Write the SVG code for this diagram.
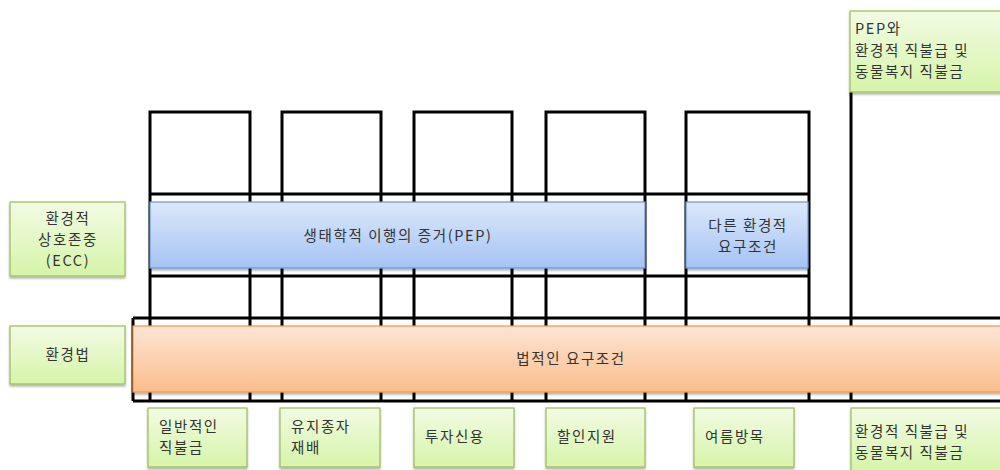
<svg xmlns="http://www.w3.org/2000/svg" width="1000" height="470" viewBox="0 0 1000 470">
<style>
text{font-family:"Noto Sans CJK KR","Noto Sans",sans-serif;font-size:14.5px;fill:#333;letter-spacing:1.6px}
.c{text-anchor:middle}
.ln{stroke:#000;stroke-width:3;fill:none}
.g{fill:url(#gg);stroke:#9bbb59;stroke-width:1.2;filter:url(#sh)}
.b{fill:url(#bg);stroke:#6d94cf;stroke-width:1.2;filter:url(#sh)}
.o{fill:url(#og);stroke:#f79646;stroke-width:1.2;filter:url(#sh)}
</style>
<defs>
<linearGradient id="gg" x1="0" y1="0" x2="0" y2="1"><stop offset="0" stop-color="#f2fbe4"/><stop offset="1" stop-color="#d6f4a9"/></linearGradient>
<linearGradient id="bg" x1="0" y1="0" x2="0" y2="1"><stop offset="0" stop-color="#dce8fb"/><stop offset="1" stop-color="#a5c3f4"/></linearGradient>
<linearGradient id="og" x1="0" y1="0" x2="0" y2="1"><stop offset="0" stop-color="#fde5d3"/><stop offset="1" stop-color="#fbbd8c"/></linearGradient>
<filter id="sh" x="-5%" y="-10%" width="110%" height="130%"><feDropShadow dx="0" dy="2" stdDeviation="1.2" flood-color="#000" flood-opacity="0.3"/></filter>
</defs>
<g id="connectors">
<path class="ln" d="M150,401V112H250V401M282,401V112H381V401M414,401V112H512V401M546,401V112H645V401M686,401V112H809V401"/>
<path class="ln" d="M150,194H809M150,276H809"/>
<path class="ln" d="M851,92V401M133,318H1002M133,401H1002M133,318V401"/>
</g>
<g id="ecc"><rect class="g" x="10" y="202" width="115" height="74"/><text class="c" x="68" y="224">환경적</text><text class="c" x="68" y="245">상호존중</text><text class="c" x="68" y="266">(ECC)</text></g>
<g id="law"><rect class="g" x="10" y="326" width="115" height="58"/><text class="c" x="68" y="360">환경법</text></g>
<g id="pep"><rect class="b" x="150" y="202" width="495" height="66"/><text class="c" x="398" y="241">생태학적 이행의 증거(PEP)</text></g>
<g id="other"><rect class="b" x="686" y="202" width="122" height="66"/><text class="c" x="748" y="231">다른 환경적</text><text class="c" x="748" y="252">요구조건</text></g>
<g id="legal"><rect class="o" x="133" y="326" width="870" height="66"/><text class="c" x="571" y="364">법적인 요구조건</text></g>
<g id="top"><rect class="g" x="850" y="11" width="155" height="81"/><text x="855" y="34">PEP와</text><text x="855" y="56">환경적 직불급 및</text><text x="855" y="77">동물복지 직불금</text></g>
<g id="b1"><rect class="g" x="148" y="408" width="99" height="59"/><text x="159" y="432">일반적인</text><text x="159" y="453">직불금</text></g>
<g id="b2"><rect class="g" x="280" y="408" width="100" height="59"/><text x="291" y="432">유지종자</text><text x="291" y="453">재배</text></g>
<g id="b3"><rect class="g" x="414" y="408" width="100" height="59"/><text x="425" y="442">투자신용</text></g>
<g id="b4"><rect class="g" x="546" y="408" width="99" height="59"/><text x="557" y="442">할인지원</text></g>
<g id="b5"><rect class="g" x="694" y="408" width="100" height="59"/><text x="705" y="442">여름방목</text></g>
<g id="b6"><rect class="g" x="851" y="408" width="155" height="65"/><text x="855" y="437">환경적 직불급 및</text><text x="855" y="458">동물복지 직불금</text></g>
</svg>
